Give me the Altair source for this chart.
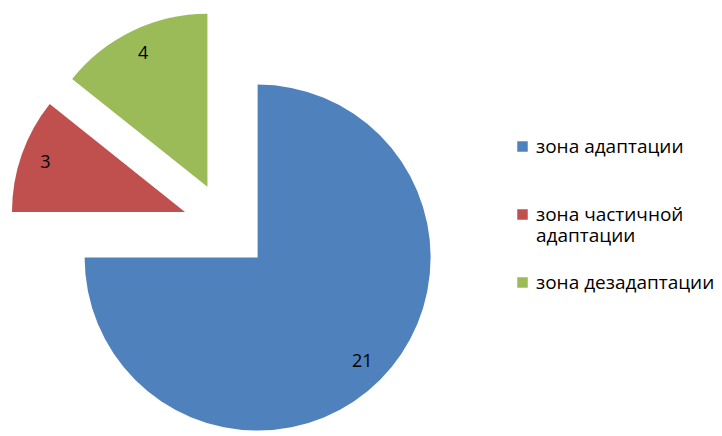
import altair as alt
import pandas as pd

categories = ["зона адаптации", "зона частичной адаптации", "зона дезадаптации"]
values = [21, 3, 4]
colors = ["#4F81BD", "#C0504D", "#9BBB59"]

CX, CY = 226.5, 226.5
R = 173
EXPLODE = 44
LABEL_R = 148
FONT = "Open Sans"

df = pd.DataFrame({"cat": categories, "value": values, "order": list(range(len(values)))})

base = alt.Chart(df).transform_joinaggregate(
    total="sum(value)"
).transform_window(
    cum="sum(value)", sort=[alt.SortField("order")], frame=[None, 0]
).transform_calculate(
    start="(datum.cum - datum.value) / datum.total * 2 * PI",
    end="datum.cum / datum.total * 2 * PI",
).transform_calculate(
    mid="(datum.start + datum.end) / 2"
).transform_calculate(
    cx=f"{CX} + {EXPLODE} * sin(datum.mid)",
    cy=f"{CY} - {EXPLODE} * cos(datum.mid)",
).transform_calculate(
    lx=f"datum.cx + {LABEL_R} * sin(datum.mid)",
    ly=f"datum.cy - {LABEL_R} * cos(datum.mid)",
)

arcs = base.mark_arc(radius=R).encode(
    theta=alt.Theta("start:Q", scale=None, stack=False),
    theta2="end:Q",
    x=alt.X("cx:Q", scale=None, axis=None),
    y=alt.Y("cy:Q", scale=None, axis=None),
    color=alt.Color(
        "cat:N",
        scale=alt.Scale(domain=categories, range=colors),
        sort=categories,
        legend=alt.Legend(
            title=None,
            orient="none",
            legendX=513,
            legendY=137,
            symbolType="square",
            symbolSize=110,
            symbolStrokeWidth=0,
            labelFontSize=19,
            labelFont=FONT,
            labelColor="#000000",
            labelOffset=4,
            rowPadding=27,
            labelLimit=300,
            labelExpr="datum.label == 'зона частичной адаптации' ? ['зона частичной', 'адаптации'] : [datum.label, ' ']",
        ),
    ),
)

labels = base.mark_text(fontSize=18, font=FONT, color="#000000").encode(
    x=alt.X("lx:Q", scale=None),
    y=alt.Y("ly:Q", scale=None),
    text=alt.Text("value:Q"),
)

chart = alt.layer(arcs, labels).properties(
    width=722, height=436, padding=0, autosize=alt.AutoSizeParams(type="none")
).configure_view(stroke=None)

chart.save("out.html", embed_options={"renderer": "svg", "actions": False})
